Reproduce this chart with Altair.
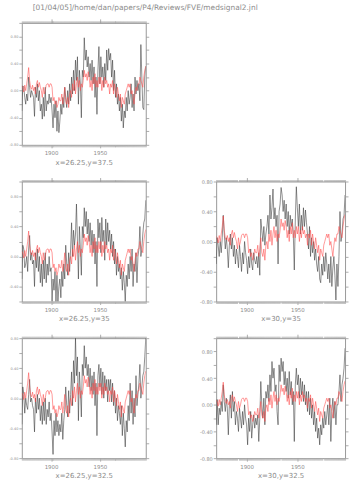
import altair as alt
import pandas as pd

years = list(range(1870, 1998))

# common signal (red)
signal = [
    0.07, 0.05, -0.02, 0.08, 0.0, 0.1, 0.2, 0.34, 0.15, 0.05,
    0.02, 0.08, 0.0, 0.05, -0.05, 0.1, 0.15, 0.05, 0.12, 0.05,
    0.0, -0.1, 0.05, -0.05, 0.0, 0.08, 0.1, 0.1, 0.05, 0.1,
    0.1, 0.05, -0.15, -0.1, -0.2, -0.15, -0.25, -0.2, -0.1, -0.15,
    -0.15, -0.05, -0.2, -0.1, 0.05, -0.15, -0.2, -0.1, -0.25, -0.05,
    0.0, -0.1, 0.1, 0.0, 0.15, -0.05, 0.1, 0.2, 0.05, 0.15,
    0.0, 0.1, 0.05, 0.15, 0.3, 0.2, 0.25, 0.15, 0.28, 0.2,
    0.05, 0.15, 0.0, 0.2, 0.1, 0.25, 0.05, 0.15, 0.05, 0.2,
    0.1, 0.2, 0.0, 0.15, 0.05, 0.2, 0.1, 0.15, 0.05, 0.1,
    -0.05, 0.1, 0.05, 0.15, -0.05, 0.1, 0.0, -0.1, 0.05, -0.05,
    -0.15, -0.05, -0.25, -0.1, -0.15, -0.2, -0.05, 0.0, 0.05, 0.1,
    0.05, 0.1, -0.05, 0.0, -0.1, -0.2, -0.05, 0.05, 0.0, 0.1,
    0.1, 0.2, 0.15, 0.1, 0.05, 0.2, 0.3, 0.36,
]

obs_26_375 = [
    -0.3, 0.07, 0.05, -0.1, -0.2, -0.05, -0.15, 0.2, 0.05, -0.1,
    0.0, -0.05, -0.1, -0.38, 0.05, -0.1, 0.1, -0.15, 0.0, -0.3,
    -0.2, -0.42, -0.1, -0.38, 0.05, -0.3, -0.15, -0.2, -0.05, -0.18,
    -0.1, -0.3, -0.55, -0.2, -0.4, -0.15, -0.6, -0.3, -0.62, -0.45,
    -0.2, -0.35, -0.1, -0.25, 0.05, -0.1, -0.25, 0.0, -0.2, 0.1,
    -0.15, 0.2, -0.05, 0.3, 0.0, 0.45, 0.15, 0.5, -0.2, 0.3,
    0.1, -0.4, 0.3, 0.2, 0.78, 0.45, 0.6, 0.35, 0.5, 0.2,
    0.4, 0.15, 0.45, 0.1, 0.35, -0.1, 0.2, -0.35, 0.3, 0.65,
    0.1, 0.5, 0.2, 0.35, 0.05, 0.4, 0.15, 0.6, 0.3, 0.62,
    0.45, 0.55, 0.2, 0.45, 0.0, 0.3, -0.1, 0.1, -0.2, -0.05,
    -0.3, -0.1, -0.45, -0.2, -0.55, -0.3, -0.4, -0.1, -0.3, 0.0,
    -0.2, -0.1, 0.1, -0.25, -0.05, -0.3, 0.2, -0.05, 0.15, 0.0,
    0.1, -0.15, 0.68, 0.2, -0.25, -0.28, 0.2, 0.36,
]

obs_26_35 = [
    -0.3, 0.15, 0.1, -0.15, -0.1, 0.0, -0.2, 0.1, 0.28, -0.05,
    0.05, -0.1, -0.05, -0.4, 0.05, -0.15, 0.1, -0.2, 0.0, -0.35,
    -0.1, -0.4, -0.05, -0.3, 0.05, -0.35, -0.1, -0.25, 0.0, -0.2,
    -0.15, -0.6, -0.3, -0.45, -0.2, -0.6, -0.25, -0.6, -0.4, -0.3,
    -0.55, -0.2, -0.4, -0.1, -0.3, 0.15, -0.1, -0.25, 0.05, -0.2,
    0.1, 0.45, 0.0, 0.35, 0.15, 0.3, 0.7, 0.2, -0.3, 0.4,
    0.1, -0.25, 0.4, 0.25, 0.65, 0.4, 0.6, 0.3, 0.5, 0.2,
    0.45, 0.15, 0.35, 0.05, 0.3, -0.1, 0.2, -0.4, 0.5, 0.25,
    0.45, 0.05, 0.52, 0.2, 0.35, -0.05, 0.5, 0.15, 0.45, 0.2,
    0.35, 0.1, 0.3, 0.0, 0.2, -0.1, 0.1, -0.25, 0.0, -0.2,
    -0.1, -0.3, -0.15, -0.45, -0.2, -0.35, -0.6, -0.25, -0.4, -0.1,
    -0.3, 0.0, -0.2, 0.1, -0.4, -0.1, -0.2, 0.05, -0.35, 0.0,
    0.1, 0.4, 0.0, 0.1, 0.3, 0.45, 0.5, 0.75,
]

obs_30_35 = [
    -0.3, 0.05, -0.05, -0.2, 0.0, -0.15, 0.05, 0.35, 0.1, -0.1,
    0.05, -0.1, -0.35, -0.05, 0.1, -0.1, 0.05, -0.2, -0.05, -0.3,
    -0.1, -0.2, -0.35, -0.05, -0.2, -0.4, -0.15, -0.3, 0.0, -0.15,
    -0.25, -0.43, -0.2, -0.35, -0.1, -0.3, -0.38, -0.15, -0.25, -0.3,
    -0.2, -0.35, -0.15, -0.45, 0.3, 0.15, 0.0, 0.2, -0.05, 0.1,
    0.2, 0.35, 0.1, 0.62, 0.3, 0.45, 0.7, 0.3, 0.45, 0.2,
    0.35, -0.3, 0.4, 0.5, 0.72, 0.62, 0.4, 0.55, 0.3, 0.5,
    0.2, 0.4, 0.1, 0.35, 0.2, 0.3, 0.1, -0.38, 0.3, 0.73,
    0.45, 0.2, 0.5, 0.1, 0.35, 0.15, 0.45, 0.2, 0.42, 0.25,
    0.1, -0.1, 0.2, -0.2, 0.05, -0.15, 0.0, -0.25, -0.1, -0.3,
    -0.4, -0.2, -0.5, -0.55, -0.3, -0.45, -0.2, -0.4, -0.15, -0.3,
    -0.5, -0.3, -0.55, -0.2, -0.6, -0.35, -0.2, -0.45, -0.78, -0.3,
    -0.6, -0.2, 0.4, 0.0, 0.1, 0.3, 0.35, 0.62,
]

obs_26_325 = [
    -0.35, 0.15, 0.05, -0.2, 0.0, -0.1, -0.15, 0.05, 0.25, -0.05,
    0.0, -0.1, -0.15, -0.45, 0.0, -0.2, 0.05, -0.15, 0.0, -0.3,
    -0.1, -0.35, -0.05, -0.3, 0.0, -0.35, -0.15, -0.25, -0.05, -0.3,
    -0.2, -0.45, -0.75, -0.3, -0.5, -0.2, -0.45, -0.3, -0.5, -0.35,
    -0.45, -0.2, -0.55, -0.3, -0.15, 0.15, -0.1, -0.25, 0.1, -0.2,
    0.05, 0.35, -0.1, 0.5, 0.2, 0.8, 0.3, 0.55, -0.3, 0.35,
    0.1, -0.25, 0.45, 0.3, 0.7, 0.4, 0.55, 0.3, 0.45, 0.15,
    0.4, 0.1, 0.3, 0.05, 0.35, -0.1, 0.2, -0.5, 0.3, 0.45,
    0.15, 0.4, 0.05, 0.35, 0.0, 0.3, 0.1, 0.25, -0.05, 0.25,
    0.1, 0.25, -0.05, 0.2, -0.1, 0.1, -0.2, 0.0, -0.3, -0.1,
    -0.2, -0.35, -0.1, -0.5, -0.2, -0.4, -0.65, -0.3, -0.45, -0.1,
    -0.3, 0.2, -0.2, 0.1, -0.35, 0.0, -0.25, 0.3, -0.1, 0.05,
    0.2, 0.45, 0.0, 0.15, 0.3, 0.35, 0.55, 0.8,
]

obs_30_325 = [
    -0.3, 0.08, -0.3, -0.05, -0.15, 0.05, -0.1, 0.3, 0.05, -0.1,
    0.1, -0.05, -0.45, 0.0, 0.15, -0.2, 0.2, -0.1, 0.05, -0.3,
    -0.1, -0.2, -0.4, -0.05, -0.2, -0.35, -0.1, -0.3, 0.0, -0.2,
    -0.3, -0.6, -0.2, -0.4, -0.1, -0.5, -0.3, -0.15, -0.35, -0.2,
    -0.3, -0.15, -0.55, -0.2, 0.35, 0.0, -0.2, 0.1, -0.3, 0.2,
    0.1, 0.3, 0.05, 0.45, 0.2, 0.65, 0.4, 0.55, 0.2, 0.3,
    -0.1, -0.3, 0.6, 0.35, 0.7, 0.5, 0.65, 0.3, 0.5, 0.2,
    0.4, 0.1, 0.5, 0.15, 0.35, 0.0, 0.2, -0.55, 0.3, 0.55,
    0.3, 0.45, 0.1, 0.4, 0.15, 0.35, 0.05, 0.3, 0.0, 0.2,
    -0.1, 0.2, -0.15, 0.1, -0.2, 0.0, -0.3, -0.1, -0.4, -0.2,
    -0.5, -0.35, -0.6, -0.3, -0.45, -0.2, -0.35, -0.1, -0.3, -0.15,
    0.0, -0.3, 0.1, -0.55, -0.1, 0.1, -0.2, 0.05, -0.3, 0.0,
    0.0, 0.2, 0.45, 0.05, 0.3, 0.4, 0.55, 0.85,
]

major_years = [1900, 1950]
title_text = "[01/04/05]/home/dan/papers/P4/Reviews/FVE/medsignal2.jnl"

GRAY = "#8c8c8c"
FONT = "DejaVu Sans"
LABEL_EXPR = ("(abs(round(datum.value*10)) % 4 == 0) ? "
              "((datum.value < -0.001 ? '-' : '') + format(abs(datum.value), '.2f')) : ''")


def panel(label, obs, ymin, ymax, w, h, yfs):
    df = pd.DataFrame({"year": years, "obs": obs, "sig": signal})
    xs = alt.Scale(domain=[1870, 1997], nice=False, zero=False)
    ys = alt.Scale(domain=[ymin, ymax], nice=False, zero=False)
    n = int(round((ymax - ymin) / 0.2))
    yticks = [round(ymin + 0.2 * i, 1) for i in range(n + 1)]
    base = alt.Chart(df)
    black = base.mark_line(color="#333333", strokeWidth=0.55, clip=True).encode(
        x=alt.X("year:Q", scale=xs, axis=alt.Axis(
            orient="bottom", values=major_years, format="d", title=label,
            tickSize=3, labelPadding=3, labelFontSize=5.5, titleFontSize=7,
            titlePadding=2, titleFontWeight="normal")),
        y=alt.Y("obs:Q", scale=ys, axis=alt.Axis(
            orient="left", values=yticks, labelExpr=LABEL_EXPR, labelOverlap=False,
            tickSize=3, labelPadding=1, labelFontSize=yfs, title=None)),
    )
    red = base.mark_line(color="#ff4a4a", strokeWidth=0.65, opacity=0.85, clip=True).encode(
        x=alt.X("year:Q", scale=xs, axis=alt.Axis(
            orient="top", values=years, labels=False, tickSize=2, title=None,
            tickColor="#b0b0b0")),
        y=alt.Y("sig:Q", scale=ys, axis=alt.Axis(
            orient="right", values=yticks, labels=False, tickSize=3, title=None)),
    )
    minor_bottom = base.mark_line(opacity=0).encode(
        x=alt.X("year:Q", scale=xs, axis=alt.Axis(
            orient="bottom", values=years, labels=False, domain=False, tickSize=2,
            title=None, tickColor="#b0b0b0")),
        y=alt.Y("sig:Q", scale=ys, axis=None),
    )
    major_top = base.mark_line(opacity=0).encode(
        x=alt.X("year:Q", scale=xs, axis=alt.Axis(
            orient="top", values=major_years, labels=False, domain=False, tickSize=4,
            title=None)),
        y=alt.Y("sig:Q", scale=ys, axis=None),
    )
    return alt.layer(black, red, minor_bottom, major_top).resolve_axis(
        x="independent", y="independent").properties(width=w, height=h)


empty = alt.Chart(pd.DataFrame({"a": [0]})).mark_point(opacity=0).encode(
    x=alt.X("a:Q", axis=None), y=alt.Y("a:Q", axis=None)
).properties(width=130, height=123)

p1 = panel("x=26.25,y=37.5", obs_26_375, -0.8, 1.0, 125, 123, 3.5)
p3 = panel("x=26.25,y=35", obs_26_35, -0.6, 1.0, 125, 121, 3.5)
p4 = panel("x=30,y=35", obs_30_35, -0.8, 0.8, 130, 121, 5)
p5 = panel("x=26.25,y=32.5", obs_26_325, -0.8, 0.8, 125, 121, 3.5)
p6 = panel("x=30,y=32.5", obs_30_325, -0.8, 1.0, 130, 121, 5)

chart = alt.concat(
    p1, empty, p3, p4, p5, p6, columns=2,
    spacing={"row": 37, "column": 71}, bounds="flush", align="each",
).properties(
    title=alt.TitleParams(title_text, anchor="start", fontSize=7.5, color=GRAY,
                          font=FONT, fontWeight="normal", dx=24, offset=7),
    padding={"left": 8, "top": 2, "right": 2, "bottom": 2},
).configure_view(stroke=None).configure_axis(
    grid=False, domainColor="#999999", tickColor="#999999", labelColor=GRAY,
    titleColor=GRAY, labelFont=FONT, titleFont=FONT, domainWidth=1, tickWidth=0.8,
)

chart.save("out.html", embed_options={"renderer": "svg", "actions": False})
